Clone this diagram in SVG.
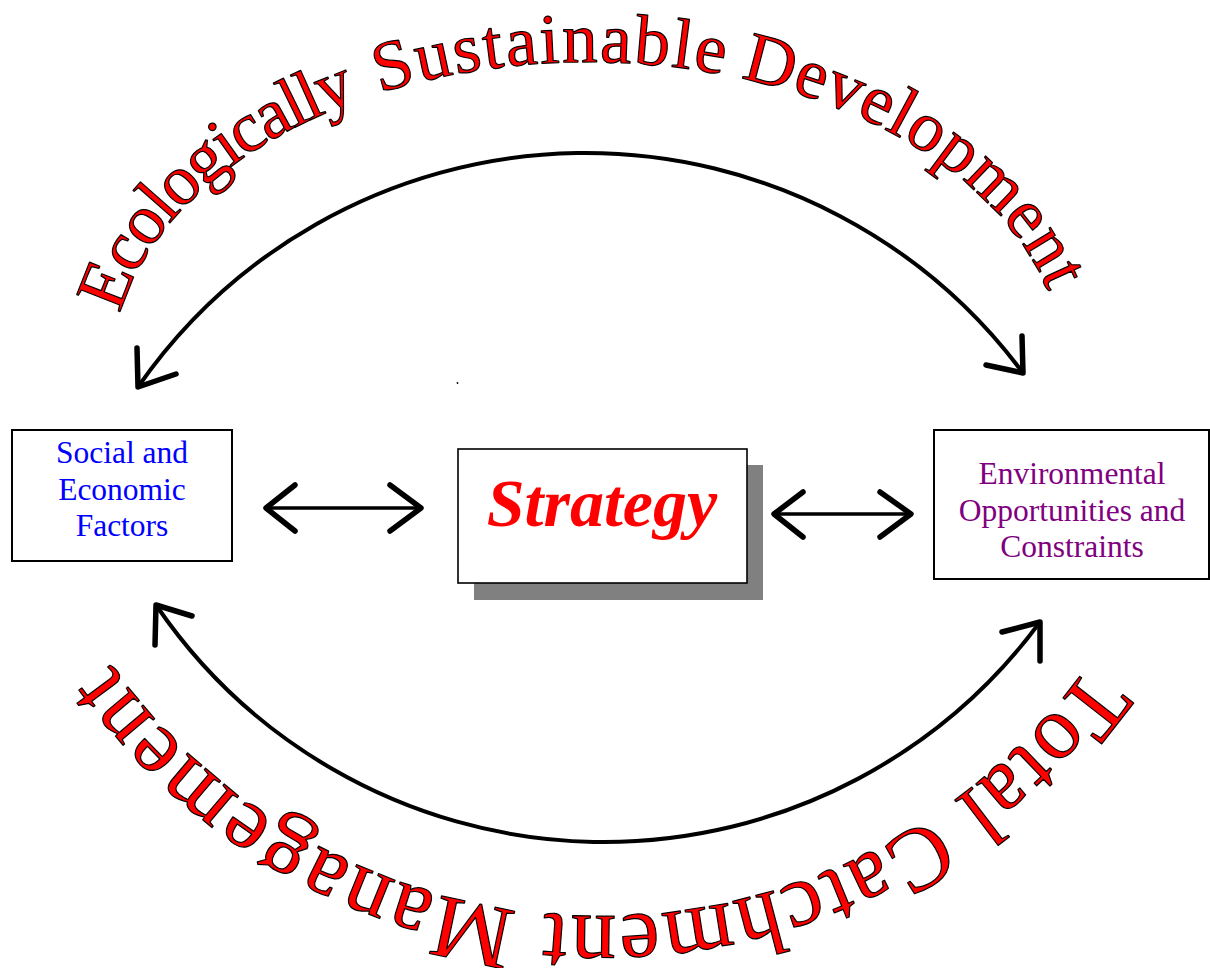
<svg xmlns="http://www.w3.org/2000/svg" width="1210" height="968" viewBox="0 0 1210 968">
<style>
.box{fill:#fff;stroke:#000;stroke-width:2}
.lbl{font-family:"Liberation Serif","Times New Roman",serif;font-size:31.5px;text-anchor:middle}
.arc{fill:none;stroke:#000;stroke-width:4;stroke-linecap:round}
.head{fill:none;stroke:#000;stroke-width:5.5;stroke-linecap:round;stroke-linejoin:round}
.shaft{fill:none;stroke:#000;stroke-width:3.5;stroke-linecap:round}
.curved{font-family:"Liberation Serif","Times New Roman",serif;fill:#ff0000;stroke:#000;stroke-width:1.2;stroke-linejoin:round}
</style>
<defs>
<path id="topPath" d="M112,371 A476,309 0 0,1 1064,371"/>
<path id="botPath" d="M1119.6,616 A600,600 0 0,1 80.4,616"/>
</defs>
<rect width="1210" height="968" fill="#fff"/>
<g id="title-top">
<text class="curved" font-size="71">
<textPath href="#topPath" startOffset="58" letter-spacing="-2.5">Ecologically</textPath>
<textPath href="#topPath" startOffset="412" letter-spacing="2">Sustainable</textPath>
<textPath href="#topPath" startOffset="777" letter-spacing="0.6">Development</textPath>
</text>
</g>
<g id="title-bottom">
<text class="curved" font-size="90" letter-spacing="2.1"><textPath href="#botPath" startOffset="58.6">Total Catchment Management</textPath></text>
</g>
<g id="connectors">
<path class="arc" d="M138,387 A545,545 0 0,1 1023,373"/>
<polyline class="head" points="137,348 138,387 176,374"/>
<polyline class="head" points="1022,336 1023,373 986,365"/>
<path class="arc" d="M156,605 A542,542 0 0,0 1040,622"/>
<polyline class="head" points="155,645 156,605 192,616"/>
<polyline class="head" points="1040,661 1040,622 1002,632"/>
<line class="shaft" x1="266" y1="508" x2="421" y2="508"/>
<polyline class="head" points="295,485 266,508 295,531"/>
<polyline class="head" points="390,485 421,508 390,531"/>
<line class="shaft" x1="774" y1="514" x2="911" y2="514"/>
<polyline class="head" points="803,492 774,514 803,537"/>
<polyline class="head" points="880,492 911,514 880,537"/>
</g>
<g id="social">
<rect class="box" x="12" y="430" width="220" height="131"/>
<text class="lbl" fill="#0000ff"><tspan x="122" y="463">Social and</tspan><tspan x="122" y="499.5">Economic</tspan><tspan x="122" y="536">Factors</tspan></text>
</g>
<g id="strategy">
<rect x="474" y="465" width="289" height="135" fill="#808080"/>
<rect x="458" y="449" width="289" height="134" fill="#fff" stroke="#000" stroke-width="1.6"/>
<text x="602" y="526" font-family="Liberation Serif, Times New Roman, serif" font-size="68" font-weight="bold" font-style="italic" fill="#ff0000" text-anchor="middle">Strategy</text>
</g>
<g id="environment">
<rect class="box" x="934" y="430" width="275" height="149"/>
<text class="lbl" fill="#800080"><tspan x="1072" y="484">Environmental</tspan><tspan x="1072" y="520.5">Opportunities and</tspan><tspan x="1072" y="557">Constraints</tspan></text>
</g>
<circle cx="457.5" cy="383" r="0.9" fill="#000"/>
</svg>
